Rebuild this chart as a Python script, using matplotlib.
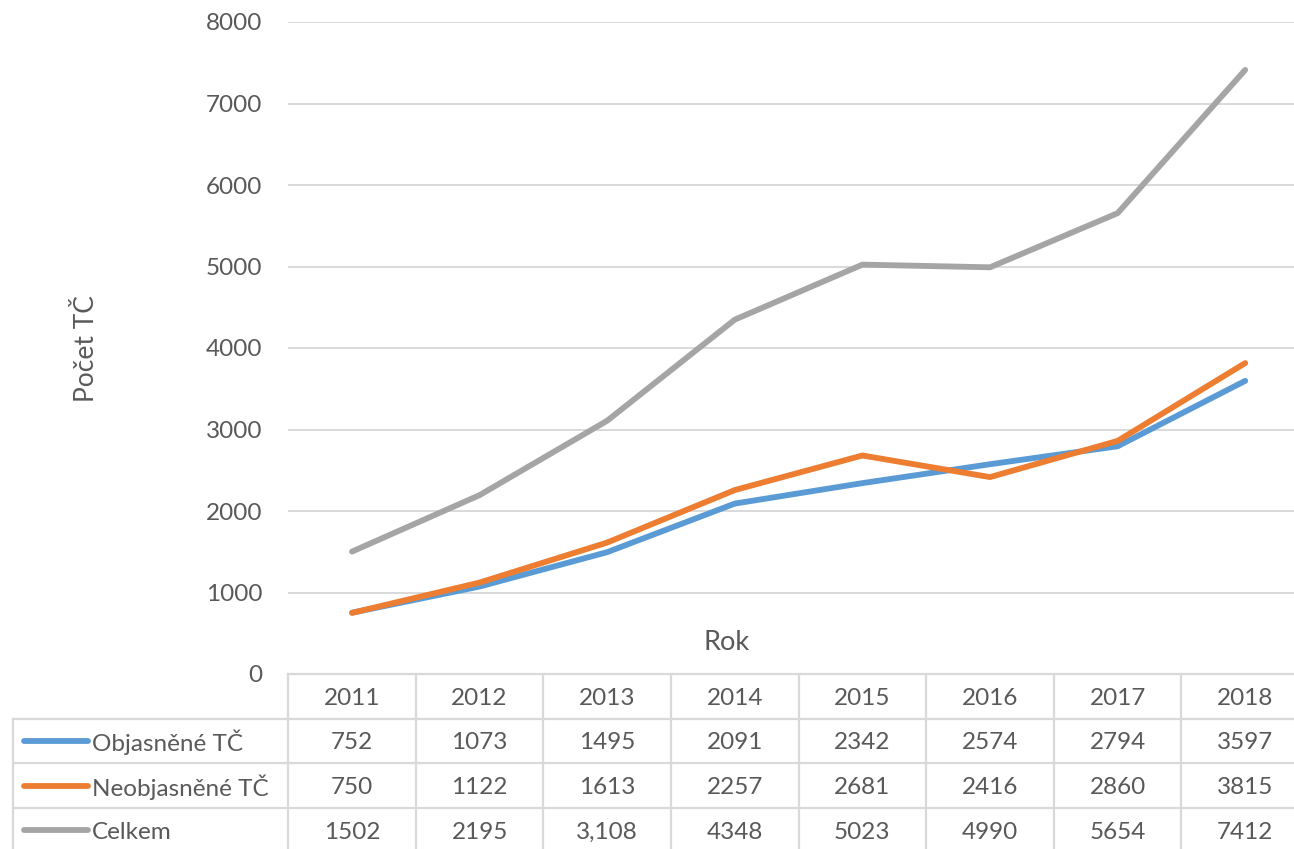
import matplotlib
matplotlib.use("Agg")
import matplotlib.pyplot as plt
from matplotlib.transforms import blended_transform_factory

years = ["2011", "2012", "2013", "2014", "2015", "2016", "2017", "2018"]
series_names = ["Objasněné TČ", "Neobjasněné TČ", "Celkem"]
objasnene = [752, 1073, 1495, 2091, 2342, 2574, 2794, 3597]
neobjasnene = [750, 1122, 1613, 2257, 2681, 2416, 2860, 3815]
celkem = [1502, 2195, 3108, 4348, 5023, 4990, 5654, 7412]
table_text = [
    ["752", "1073", "1495", "2091", "2342", "2574", "2794", "3597"],
    ["750", "1122", "1613", "2257", "2681", "2416", "2860", "3815"],
    ["1502", "2195", "3,108", "4348", "5023", "4990", "5654", "7412"],
]
yticks = [0, 1000, 2000, 3000, 4000, 5000, 6000, 7000, 8000]
colors = ["#5B9BD5", "#ED7D31", "#A5A5A5"]
txt = "#595959"
gridc = "#D9D9D9"
FONT = "Lato"
FS = 17.5

W, H = 1294, 849
fig = plt.figure(figsize=(W / 100, H / 100), dpi=100)
left_px, right_px = 288.2, 1309.0
top_px, bot_px = 22, 674
ax = fig.add_axes([left_px / W, 1 - bot_px / H, (right_px - left_px) / W, (bot_px - top_px) / H])

x = list(range(len(years)))
data = [objasnene, neobjasnene, celkem]
for vals, c in zip(data, colors):
    ax.plot(x, vals, color=c, lw=4.2, solid_capstyle="round", solid_joinstyle="round", zorder=3)

ax.set_xlim(-0.5, len(years) - 0.5)
ax.set_ylim(0, 8000)
ax.set_yticks(yticks)
ax.set_yticklabels([str(v) for v in yticks], fontfamily=FONT, fontsize=FS, color=txt)
ax.tick_params(axis="y", length=0, pad=18.5)
ax.set_xticks([])
ax.grid(axis="y", color=gridc, lw=1.4)
ax.set_axisbelow(True)
for s in ax.spines.values():
    s.set_visible(False)

fig.text(86 / W, 1 - 349 / H, "Počet TČ", rotation=90, ha="center", va="center",
         fontsize=19, color=txt, fontfamily=FONT)
fig.text(727 / W, 1 - 643 / H, "Rok", ha="center", va="center",
         fontsize=19.5, color=txt, fontfamily=FONT)

# data table
tr = blended_transform_factory(ax.transData, fig.transFigure)
col_w_px = (right_px - left_px) / len(years)
xl = -0.5 - (left_px - 13) / col_w_px
row_h = 44.7 / H
ytop = 1 - bot_px / H
rows_y = [ytop - i * row_h for i in range(5)]

# horizontal lines
fig.add_artist(plt.Line2D([-0.5, 7.6], [rows_y[0]] * 2, transform=tr, color=gridc, lw=1.6))
for yy in rows_y[1:4]:
    fig.add_artist(plt.Line2D([xl, 7.6], [yy] * 2, transform=tr, color=gridc, lw=1.6))
# vertical lines
fig.add_artist(plt.Line2D([xl, xl], [rows_y[1], 0], transform=tr, color=gridc, lw=1.6))
for i in range(len(years) + 1):
    xv = -0.5 + i
    fig.add_artist(plt.Line2D([xv, xv], [rows_y[0], 0], transform=tr, color=gridc, lw=1.6))

for i, yr in enumerate(years):
    fig.text(i, (rows_y[0] + rows_y[1]) / 2 - 0.002, yr, transform=tr, ha="center", va="center",
             fontsize=FS, color=txt, fontfamily=FONT)
for r in range(3):
    yc = (rows_y[r + 1] + rows_y[r + 2]) / 2 - 0.002
    for i in range(len(years)):
        fig.text(i, yc, table_text[r][i], transform=tr, ha="center", va="center",
                 fontsize=FS, color=txt, fontfamily=FONT)
    fig.add_artist(plt.Line2D([24 / W, 88 / W], [yc + 0.002] * 2, transform=fig.transFigure,
                              color=colors[r], lw=4.2, solid_capstyle="round"))
    fig.text(92 / W, yc, series_names[r], ha="left", va="center",
             fontsize=FS, color=txt, fontfamily=FONT)

fig.savefig("out.png", dpi=100)
